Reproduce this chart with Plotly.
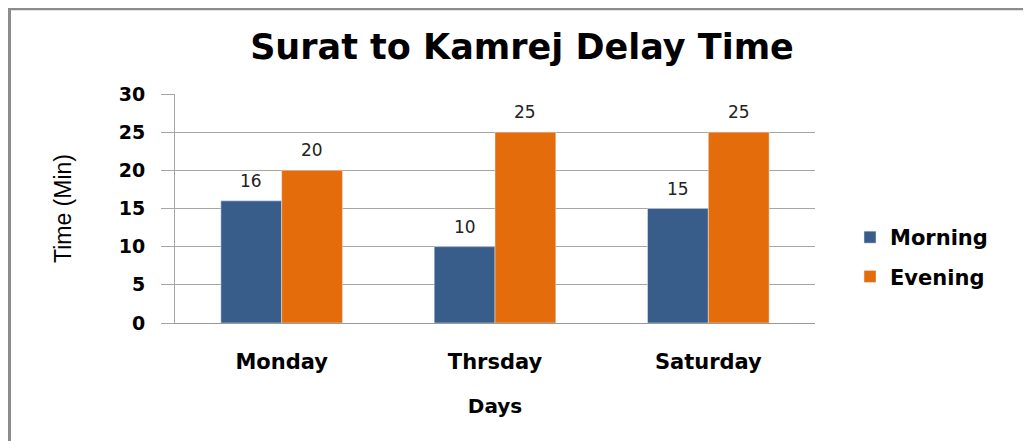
import plotly.graph_objects as go

days = ["Monday", "Thrsday", "Saturday"]
morning = [16, 10, 15]
evening = [20, 25, 25]
yticks = [0, 5, 10, 15, 20, 25, 30]

OFF = 8  # page body offset
W, H = 1023, 433
# plot area in screen pixels
SX0, SX1, SY0, SY1 = 175, 815, 94, 323
L, R, T, B = SX0 - OFF, W - (SX1 - OFF), SY0 - OFF, H - (SY1 - OFF)
pw, ph = W - L - R, H - T - B
BARGAP = 0.43

def px_x(x):
    return (x - OFF - L) / pw

def px_y(y):
    return (H - B - (y - OFF)) / ph

fig = go.Figure()
fig.add_trace(go.Bar(name="Morning", x=days, y=morning, marker_color="#385D8A",
                     legendgroup="m"))
fig.add_trace(go.Bar(name="Evening", x=days, y=evening, marker_color="#E46C0A",
                     legendgroup="e"))

off = (1 - BARGAP) / 4
annots = []
for i, (m, e) in enumerate(zip(morning, evening)):
    for xv, v in ((i - off, m), (i + off, e)):
        annots.append(dict(x=xv, y=v, xref="x", yref="y", text=str(v), showarrow=False,
                           yanchor="bottom", yshift=8,
                           font=dict(family="DejaVu Sans", size=17, color="#222")))

fig.update_layout(
    width=W, height=H,
    margin=dict(l=L, r=R, t=T, b=B),
    paper_bgcolor="white", plot_bgcolor="white",
    barmode="group", bargap=BARGAP, bargroupgap=0,
    title=dict(text="Surat to Kamrej Delay Time", x=px_x(522), xref="paper",
               xanchor="center", y=1 - (47 - OFF) / H, yanchor="middle",
               font=dict(family="DejaVu Sans", size=35, color="black", weight="bold")),
    legend=dict(x=px_x(850), y=px_y(217), xanchor="left", yanchor="top",
                font=dict(family="DejaVu Sans", size=21, color="black", weight="bold"),
                tracegroupgap=9, itemwidth=30, bgcolor="rgba(0,0,0,0)"),
    showlegend=True,
    annotations=annots,
    shapes=[
        dict(type="line", xref="paper", yref="paper",
             x0=px_x(9.5), x1=px_x(9.5), y0=px_y(441), y1=px_y(8),
             line=dict(color="#8C8C8C", width=3), layer="below"),
        dict(type="line", xref="paper", yref="paper",
             x0=px_x(8), x1=px_x(1031), y0=px_y(9), y1=px_y(9),
             line=dict(color="#8C8C8C", width=2.5), layer="below"),
    ],
)
fig.update_xaxes(
    title=dict(text="Days", font=dict(family="DejaVu Sans", size=20, color="black", weight="bold"), standoff=25),
    tickfont=dict(family="DejaVu Sans", size=21, color="black", weight="bold"),
    showline=True, linecolor="#999", linewidth=1, ticks="", ticklabelstandoff=20,
    automargin=False,
)
fig.update_yaxes(
    range=[0, 30], tickvals=yticks,
    tickfont=dict(family="DejaVu Sans", size=19, color="black", weight="bold"),
    showgrid=True, gridcolor="#A6A6A6", gridwidth=1,
    showline=True, linecolor="#A6A6A6", linewidth=1,
    ticks="outside", ticklen=13, tickcolor="#A6A6A6", ticklabelstandoff=12,
    title=dict(text="Time (Min)", font=dict(family="Liberation Sans Narrow, Liberation Sans", size=23, color="black"), standoff=40),
    zeroline=False, automargin=False,
)
fig.write_html("out.html")
